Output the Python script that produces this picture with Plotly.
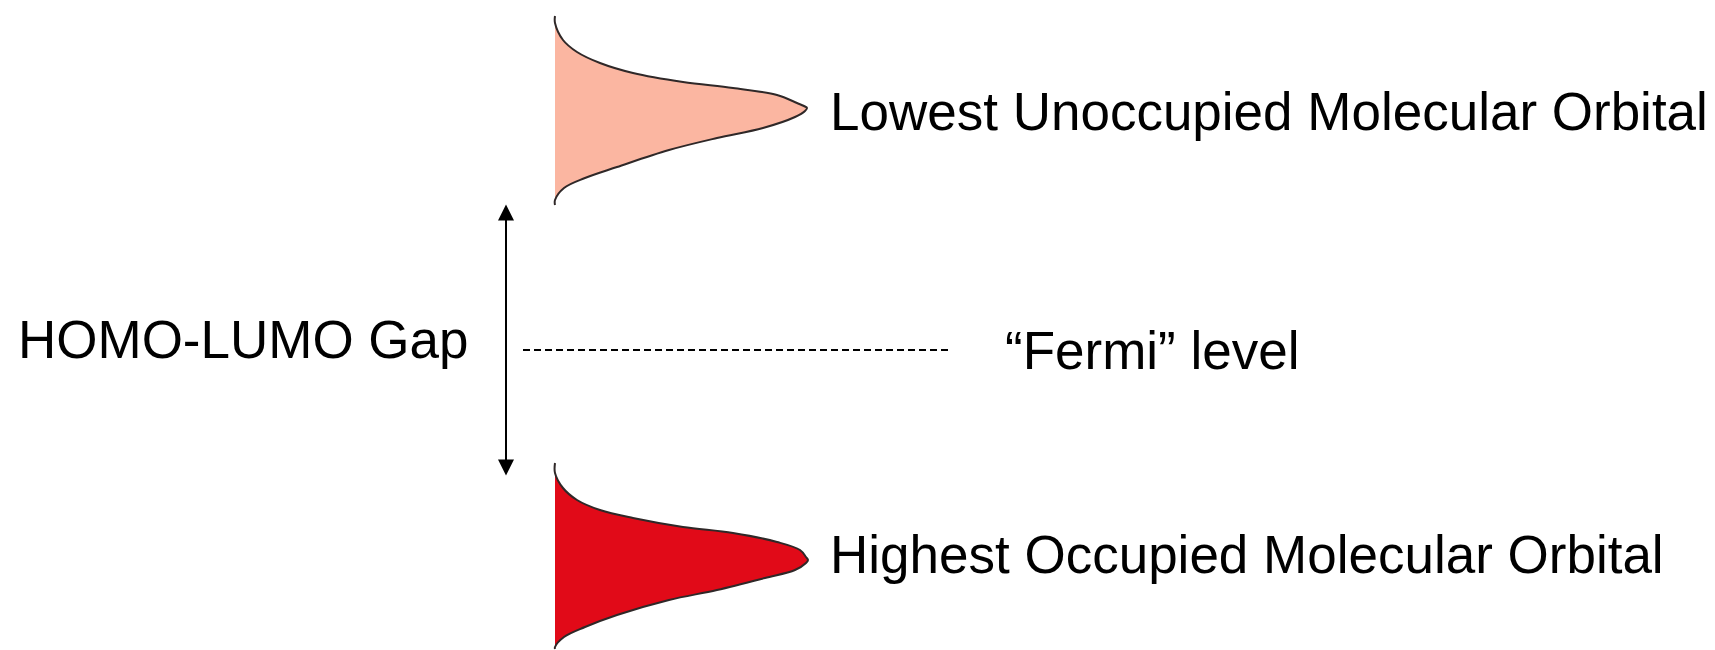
import plotly.graph_objects as go

# Schematic density of states (arbitrary units).
# Energy increases upward; DOS measured from the left baseline.
lumo_energy = [634, 627, 610, 598, 587, 577, 568, 562, 555, 547, 544, 542, 539, 533, 522, 512, 500, 483, 472, 462, 450, 445]
lumo_dos    = [0,   0,   8,   22,  45,  78,  128, 178, 222, 242, 249, 252, 250, 240, 208, 162, 114, 62,  30,  9,   0,   0]

homo_energy = [187, 177, 162, 150, 140, 132, 123, 117, 108, 100, 93,  90,  87,  80,  72,  60,  50,  35,  23,  13,  3,   1]
homo_dos    = [0,   0,   8,   22,  45,  78,  128, 178, 222, 245, 251, 253, 251, 240, 210, 162, 114, 62,  30,  9,   0,   0]

fermi_energy = 300
fermi_dos_span = [-32, 393]
gap_arrow_dos = -49
gap_arrow_energy = [445.5, 173]

labels = {
    "lumo": "Lowest Unoccupied Molecular Orbital",
    "homo": "Highest Occupied Molecular Orbital",
    "fermi": "\u201cFermi\u201d level",
    "gap": "HOMO-LUMO Gap",
}

FONT = "Liberation Sans, Arial, sans-serif"
OUTLINE = "#2f2828"

fig = go.Figure()

fig.add_trace(go.Scatter(
    x=lumo_dos, y=lumo_energy, mode="lines", fill="toself",
    fillcolor="#FBB6A1", line=dict(color=OUTLINE, width=2, shape="spline", smoothing=1.0),
    hoverinfo="skip", showlegend=False))

fig.add_trace(go.Scatter(
    x=homo_dos, y=homo_energy, mode="lines", fill="toself",
    fillcolor="#E10A18", line=dict(color=OUTLINE, width=2, shape="spline", smoothing=1.0),
    hoverinfo="skip", showlegend=False))

fig.add_trace(go.Scatter(
    x=fermi_dos_span, y=[fermi_energy, fermi_energy], mode="lines",
    line=dict(color="black", width=1.8, dash="7px,4px"),
    hoverinfo="skip", showlegend=False))

# Double-headed arrow for the gap
fig.add_annotation(
    x=gap_arrow_dos, y=gap_arrow_energy[0], ax=gap_arrow_dos, ay=gap_arrow_energy[1],
    xref="x", yref="y", axref="x", ayref="y", text="", showarrow=True,
    arrowhead=2, startarrowhead=2, arrowside="end+start",
    arrowwidth=2, arrowsize=1.6, startarrowsize=1.6, arrowcolor="black", standoff=0, startstandoff=0)

text_font = dict(family=FONT, size=53, color="black")
fig.add_annotation(x=273, y=539, text=labels["lumo"], showarrow=False,
                   xanchor="left", yanchor="middle", font=text_font)
fig.add_annotation(x=273, y=96, text=labels["homo"], showarrow=False,
                   xanchor="left", yanchor="middle", font=text_font)
fig.add_annotation(x=448, y=300, text=labels["fermi"], showarrow=False,
                   xanchor="left", yanchor="middle", font=text_font)
fig.add_annotation(x=-539, y=311, text=labels["gap"], showarrow=False,
                   xanchor="left", yanchor="middle", font=text_font)

# The page body has an 8px margin; the figure fills the rest of the window.
fig.update_xaxes(range=[-547, 1160], visible=False, showgrid=False, zeroline=False, fixedrange=True)
fig.update_yaxes(range=[0, 642], visible=False, showgrid=False, zeroline=False, fixedrange=True)

fig.update_layout(
    width=1707, height=642,
    margin=dict(l=0, r=0, t=0, b=0),
    paper_bgcolor="white", plot_bgcolor="white",
    showlegend=False,
)

fig.write_html("out.html", config={"displayModeBar": False})
